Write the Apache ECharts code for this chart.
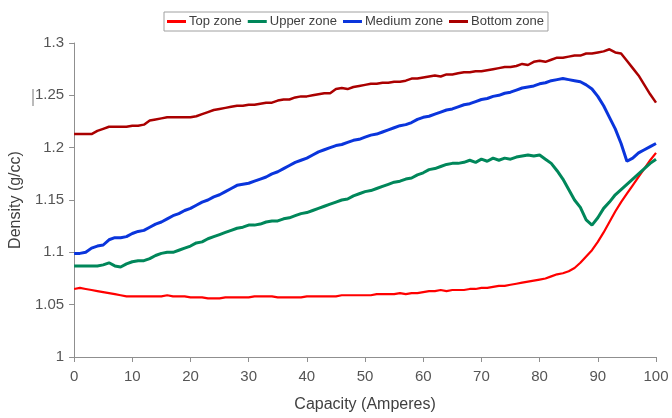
<!DOCTYPE html>
<html>
<head>
<meta charset="utf-8">
<script src="https://cdn.jsdelivr.net/npm/echarts@6/dist/echarts.min.js"></script>
<style>
  html, body { margin: 0; padding: 0; background: #fff; }
  #chart { width: 672px; height: 418px; }
</style>
</head>
<body>
<div id="chart"></div>
<script>
// Capacity (Amperes), sampled every 1 A
const capacity = [];
for (let a = 0; a <= 100; a++) capacity.push(a);

const seriesNames = ['Top zone', 'Upper zone', 'Medium zone', 'Bottom zone'];

// Electrolyte density (g/cc) per zone
const topZone = [
  1.065, 1.066, 1.065, 1.064, 1.063, 1.062, 1.061, 1.060, 1.059, 1.058,
  1.058, 1.058, 1.058, 1.058, 1.058, 1.058, 1.059, 1.058, 1.058, 1.058,
  1.057, 1.057, 1.057, 1.056, 1.056, 1.056, 1.057, 1.057, 1.057, 1.057,
  1.057, 1.058, 1.058, 1.058, 1.058, 1.057, 1.057, 1.057, 1.057, 1.057,
  1.058, 1.058, 1.058, 1.058, 1.058, 1.058, 1.059, 1.059, 1.059, 1.059,
  1.059, 1.059, 1.060, 1.060, 1.060, 1.060, 1.061, 1.060, 1.061, 1.061,
  1.062, 1.063, 1.063, 1.064, 1.063, 1.064, 1.064, 1.064, 1.065, 1.065,
  1.066, 1.066, 1.067, 1.068, 1.068, 1.069, 1.070, 1.071, 1.072, 1.073,
  1.074, 1.075, 1.077, 1.079, 1.080, 1.082, 1.085, 1.090, 1.096, 1.102,
  1.110, 1.119, 1.129, 1.139, 1.148, 1.156, 1.164, 1.172, 1.180, 1.188,
  1.195
];

const upperZone = [
  1.087, 1.087, 1.087, 1.087, 1.087, 1.088, 1.090, 1.087, 1.086, 1.089,
  1.091, 1.092, 1.092, 1.094, 1.097, 1.099, 1.100, 1.100, 1.102, 1.104,
  1.106, 1.109, 1.110, 1.113, 1.115, 1.117, 1.119, 1.121, 1.123, 1.124,
  1.126, 1.126, 1.127, 1.129, 1.130, 1.130, 1.132, 1.133, 1.135, 1.137,
  1.138, 1.140, 1.142, 1.144, 1.146, 1.148, 1.150, 1.151, 1.154, 1.156,
  1.158, 1.159, 1.161, 1.163, 1.165, 1.167, 1.168, 1.170, 1.171, 1.174,
  1.176, 1.179, 1.180, 1.182, 1.184, 1.185, 1.185, 1.186, 1.188, 1.186,
  1.189, 1.187, 1.190, 1.188, 1.190, 1.189, 1.191, 1.192, 1.193, 1.192,
  1.193, 1.189, 1.185, 1.178, 1.170, 1.160, 1.150, 1.143, 1.131, 1.126,
  1.133, 1.142, 1.148, 1.155, 1.160, 1.165, 1.170, 1.175, 1.180, 1.185,
  1.189
];

const mediumZone = [
  1.099, 1.099, 1.100, 1.104, 1.106, 1.107, 1.112, 1.114, 1.114, 1.115,
  1.118, 1.120, 1.121, 1.124, 1.127, 1.129, 1.132, 1.135, 1.137, 1.140,
  1.142, 1.145, 1.148, 1.150, 1.153, 1.155, 1.158, 1.161, 1.164, 1.165,
  1.166, 1.168, 1.170, 1.172, 1.175, 1.177, 1.180, 1.183, 1.186, 1.188,
  1.190, 1.193, 1.196, 1.198, 1.200, 1.202, 1.203, 1.205, 1.207, 1.208,
  1.210, 1.212, 1.213, 1.215, 1.217, 1.219, 1.221, 1.222, 1.224, 1.227,
  1.229, 1.230, 1.232, 1.234, 1.236, 1.237, 1.239, 1.241, 1.242, 1.244,
  1.246, 1.247, 1.249, 1.250, 1.252, 1.253, 1.255, 1.257, 1.258, 1.259,
  1.261, 1.262, 1.264, 1.265, 1.266, 1.265, 1.264, 1.263, 1.260, 1.256,
  1.249, 1.240, 1.229, 1.218, 1.204, 1.187, 1.190, 1.195, 1.198, 1.201,
  1.204
];

const bottomZone = [
  1.213, 1.213, 1.213, 1.213, 1.216, 1.218, 1.220, 1.220, 1.220, 1.220,
  1.221, 1.221, 1.222, 1.226, 1.227, 1.228, 1.229, 1.229, 1.229, 1.229,
  1.229, 1.230, 1.232, 1.234, 1.236, 1.237, 1.238, 1.239, 1.240, 1.240,
  1.241, 1.241, 1.242, 1.243, 1.243, 1.245, 1.246, 1.246, 1.248, 1.249,
  1.249, 1.250, 1.251, 1.252, 1.252, 1.256, 1.257, 1.256, 1.258, 1.259,
  1.260, 1.261, 1.261, 1.262, 1.262, 1.263, 1.263, 1.264, 1.266, 1.266,
  1.267, 1.268, 1.269, 1.268, 1.270, 1.270, 1.271, 1.272, 1.272, 1.273,
  1.273, 1.274, 1.275, 1.276, 1.277, 1.277, 1.278, 1.280, 1.279, 1.282,
  1.283, 1.282, 1.284, 1.286, 1.286, 1.287, 1.288, 1.288, 1.290, 1.290,
  1.291, 1.292, 1.294, 1.291, 1.290, 1.283, 1.276, 1.269, 1.260, 1.251,
  1.243
];

const zoneValues = [topZone, upperZone, mediumZone, bottomZone];
const zoneColors = ['#ff0000', '#00875a', '#0a35dc', '#aa0000'];
const zoneWidths = [2.2, 3, 3, 2.5];

const pair = vals => capacity.map((c, i) => [c, vals[i]]);

const chart = echarts.init(document.getElementById('chart'));
const axisGray = '#8f8f8f';
const labelColor = '#555555';
const font = 'Liberation Sans, Arial, sans-serif';

chart.setOption({
  animation: false,
  backgroundColor: '#ffffff',
  textStyle: { fontFamily: font },
  legend: {
    data: seriesNames,
    left: 164,
    top: 12,
    orient: 'horizontal',
    icon: 'rect',
    itemWidth: 19,
    itemHeight: 3,
    itemGap: 6,
    padding: [3, 4, 3, 3],
    borderColor: '#a0a0a0',
    borderWidth: 1,
    textStyle: { fontFamily: font, fontSize: 13, color: '#404040', padding: [0, 0, 0, -2] }
  },
  grid: { left: 73, right: 16, top: 43, bottom: 57, containLabel: false },
  xAxis: {
    type: 'value',
    min: 0,
    max: 100,
    interval: 10,
    name: 'Capacity (Amperes)',
    nameLocation: 'middle',
    nameGap: 40,
    nameTextStyle: { fontFamily: font, fontSize: 16, color: '#404040' },
    axisLine: { show: true, lineStyle: { color: axisGray, width: 1 } },
    axisTick: { show: true, length: 5, lineStyle: { color: axisGray } },
    axisLabel: { fontFamily: font, fontSize: 15, color: labelColor, margin: 12 },
    splitLine: { show: false }
  },
  yAxis: {
    type: 'value',
    min: 1,
    max: 1.3,
    interval: 0.05,
    name: 'Density (g/cc)',
    nameLocation: 'middle',
    nameRotate: 90,
    nameGap: 42,
    nameTextStyle: { fontFamily: font, fontSize: 16, color: '#404040' },
    axisLine: { show: true, lineStyle: { color: axisGray, width: 1 } },
    axisTick: { show: true, length: 5, lineStyle: { color: axisGray } },
    axisLabel: {
      fontFamily: font, fontSize: 15, color: labelColor, margin: 10,
      formatter: v => String(+v.toFixed(2))
    },
    splitLine: { show: false }
  },
  graphic: [{
    type: 'line',
    shape: { x1: 33, y1: 89, x2: 33, y2: 106 },
    style: { stroke: '#777777', lineWidth: 1 }
  }],
  series: seriesNames.map((name, k) => ({
    name,
    type: 'line',
    data: pair(zoneValues[k]),
    showSymbol: false,
    symbol: 'none',
    smooth: false,
    color: zoneColors[k],
    lineStyle: { color: zoneColors[k], width: zoneWidths[k] }
  }))
});
</script>
</body>
</html>
